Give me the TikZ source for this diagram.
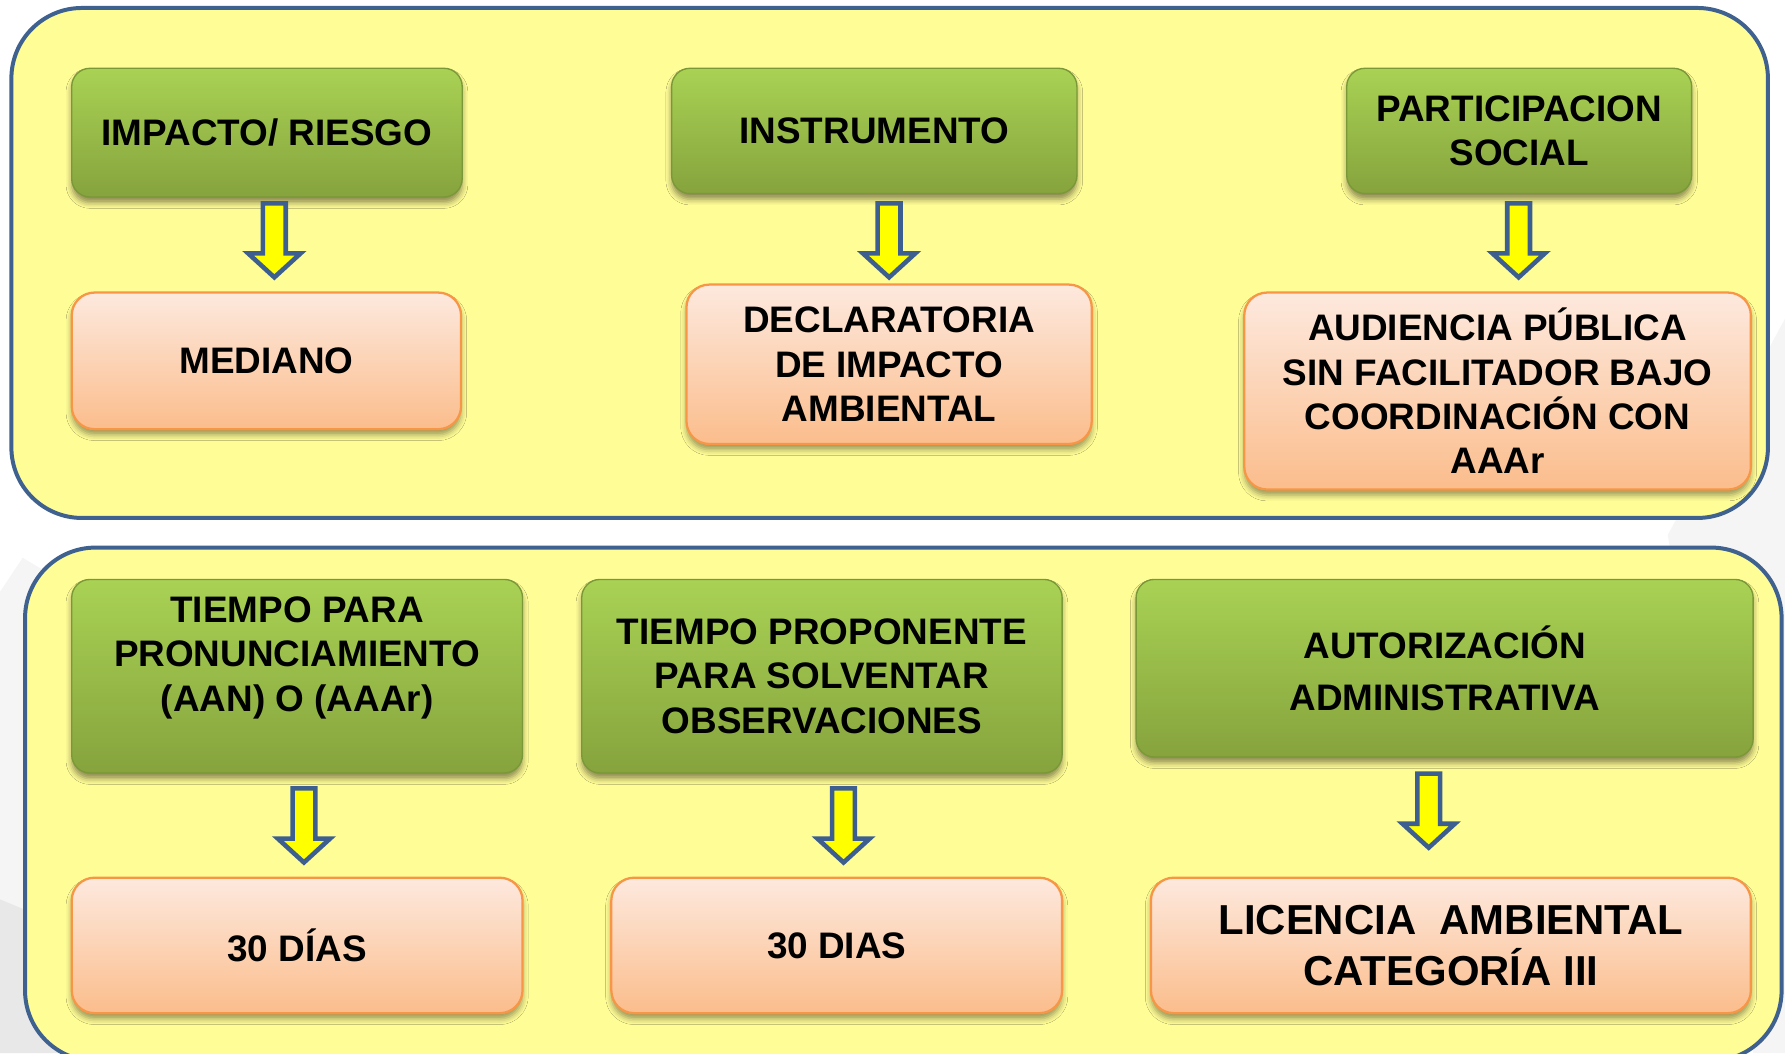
\documentclass[tikz,border=0pt]{standalone}
\usepackage{fontspec}
\setmainfont{Liberation Sans}
\usetikzlibrary{calc,shadows,shadows.blur}
\definecolor{panelfill}{HTML}{FFFD96}
\definecolor{panelblue}{HTML}{3F618F}
\definecolor{greentop}{HTML}{A9D254}
\definecolor{greenbot}{HTML}{86A33D}
\definecolor{greenline}{HTML}{7A9838}
\definecolor{orangetop}{HTML}{FDE9DE}
\definecolor{orangebot}{HTML}{FBBD8C}
\definecolor{orangeline}{HTML}{F79646}
\definecolor{arrowblue}{HTML}{3C5F8F}
\definecolor{arrowfill}{HTML}{FFFF00}
\begin{document}
\begin{tikzpicture}[x=0.5pt,y=-0.5pt,
  panel/.style={draw=panelblue, line width=1.75pt, fill=panelfill, rounded corners=31pt},
  boxtext/.style={align=center, font=\fontsize{16.2}{19.5}\selectfont\bfseries, text=black},
  greenbox/.style={rectangle, rounded corners=8pt, draw=greenline, line width=0.6pt,
    top color=greentop, bottom color=greenbot, inner sep=0pt, boxtext,
    blur shadow={shadow xshift=0pt, shadow yshift=-2.5pt, shadow blur radius=2.5pt, shadow opacity=45}},
  orangebox/.style={rectangle, rounded corners=10pt, draw=orangeline, line width=1pt,
    top color=orangetop, bottom color=orangebot, inner sep=0pt, boxtext,
    blur shadow={shadow xshift=0pt, shadow yshift=-2.5pt, shadow blur radius=2.5pt, shadow opacity=40}},
  arrowstyle/.style={draw=arrowblue, fill=arrowfill, line width=2pt, line join=miter},
  blockarrow/.pic={\path[arrowstyle] (-10,2) -- (10,2) -- (10,46) -- (23,46) -- (0,67) -- (-23,46) -- (-10,46) -- cycle;}
]
\useasboundingbox (0,0) rectangle (1568,925);
\clip (0,0) rectangle (1568,925);
\fill[white] (0,0) rectangle (1568,925);
% faint background decorations
\fill[black!4] (0,520) -- (20,490) -- (70,520) -- (70,925) -- (0,925) -- cycle;
\fill[black!9] (0,790) -- (60,815) -- (60,925) -- (0,925) -- cycle;
\fill[black!4] (1568,280) -- (1568,925) -- (1540,925) -- (1465,470) -- cycle;
% panels
\path[panel] (10,7) rectangle (1553,455);
\path[panel] (22,481) rectangle (1565,932);
% top row
\node[greenbox, minimum width=171.5pt, minimum height=56.5pt] (g1) at (234.5,116.5) {IMPACTO/ RIESGO};
\node[greenbox, minimum width=178pt, minimum height=55pt] (g2) at (768,115) {INSTRUMENTO};
\node[greenbox, minimum width=151.5pt, minimum height=55pt] (g3) at (1334.5,115) {PARTICIPACION\\SOCIAL};
\node[orangebox, minimum width=171pt, minimum height=60pt] (o1) at (234,317) {MEDIANO};
\node[orangebox, minimum width=178pt, minimum height=70pt] (o2) at (781,320) {DECLARATORIA\\DE IMPACTO\\AMBIENTAL};
\node[orangebox, minimum width=222.5pt, minimum height=86.5pt] (o3) at (1315.5,343.5) {AUDIENCIA PÚBLICA\\SIN FACILITADOR BAJO\\COORDINACIÓN CON\\AAAr};
% bottom row
\node[greenbox, minimum width=198pt, minimum height=85pt] (g4) at (261,594) {TIEMPO PARA\\PRONUNCIAMIENTO\\(AAN) O (AAAr)\\[0pt]\mbox{}};
\node[greenbox, minimum width=211pt, minimum height=85pt] (g5) at (722,594) {TIEMPO PROPONENTE\\PARA SOLVENTAR\\OBSERVACIONES};
\node[greenbox, minimum width=271pt, minimum height=78pt, font=\fontsize{16.2}{23}\selectfont\bfseries] (g6) at (1269,587) {AUTORIZACIÓN\\ADMINISTRATIVA};
\node[orangebox, minimum width=198pt, minimum height=59.5pt] (o4) at (261,830.5) {30 DÍAS};
\node[orangebox, minimum width=198pt, minimum height=59.5pt] (o5) at (735,830.5) {30 DIAS};
\node[orangebox, minimum width=263.5pt, minimum height=59.5pt, font=\fontsize{18.4}{22.5}\selectfont\bfseries] (o6) at (1274.5,830.5) {LICENCIA~~AMBIENTAL\\CATEGORÍA III};
% block arrows
\pic at ($(g1.south)+(6.5,3)$) {blockarrow};
\pic at ($(g2.south)+(13,6)$) {blockarrow};
\pic at ($(g3.south)+(-0.5,6)$) {blockarrow};
\pic at ($(g4.south)+(6,11)$) {blockarrow};
\pic at ($(g5.south)+(19,11)$) {blockarrow};
\pic at ($(g6.south)+(-14,12)$) {blockarrow};
\end{tikzpicture}
\end{document}
